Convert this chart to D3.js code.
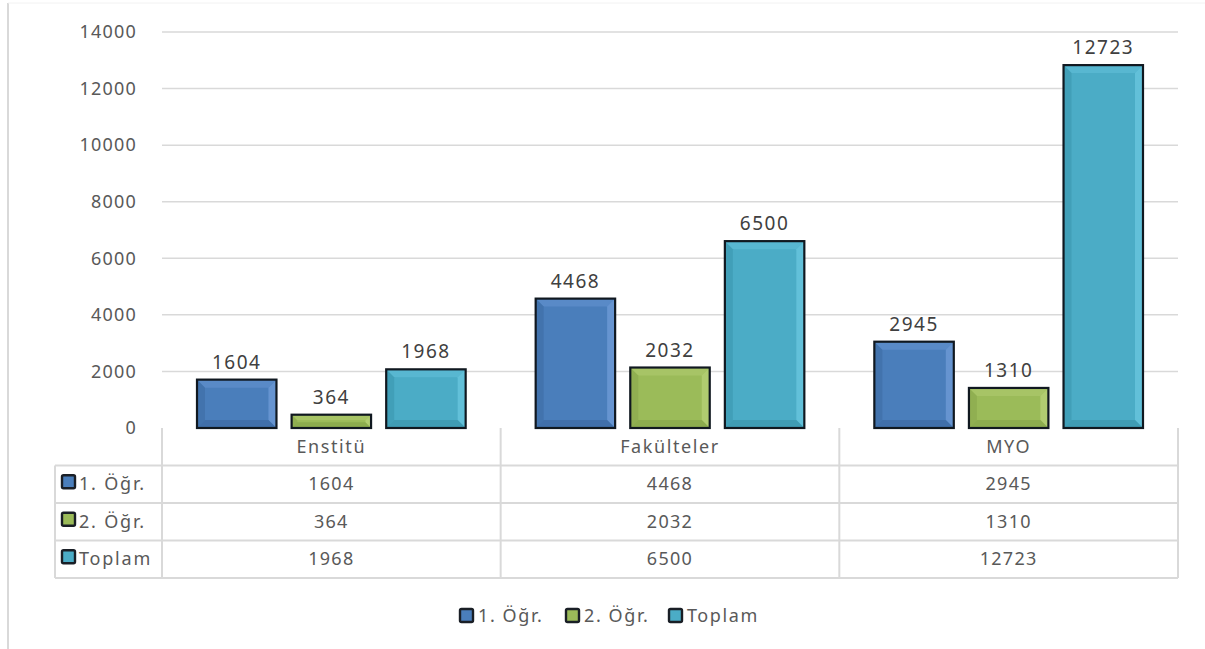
<!DOCTYPE html>
<html><head><meta charset="utf-8">
<script src="https://cdn.jsdelivr.net/npm/d3@7"></script>
<style>
html,body{margin:0;padding:0;background:#fff;}
svg{display:block;font-family:"Noto Sans","Open Sans",sans-serif;}
</style></head>
<body>
<svg id="c" width="1205" height="649"></svg>
<script>
const categories = ["Enstitü", "Fakülteler", "MYO"];
const seriesNames = ["1. Öğr.", "2. Öğr.", "Toplam"];
const ogr1 = [1604, 4468, 2945];
const ogr2 = [364, 2032, 1310];
const toplam = [1968, 6500, 12723];
const yTicks = [0, 2000, 4000, 6000, 8000, 10000, 12000, 14000];
const seriesValues = [ogr1, ogr2, toplam];
const colors = ["#4a7ebb", "#9bbb59", "#4bacc6"];
const lightC = ["#6d9ad6", "#b5d176", "#68c6dd"];
const darkC = ["#3c6aa3", "#86a54a", "#3b95ad"];

const svg = d3.select("#c");
const L = 162, R = 1178, T = 32, B = 428;
const grid = "#d9d9d9", txt = "#595959";

// chart border
svg.append("line").attr("x1",8).attr("x2",8).attr("y1",3).attr("y2",649).attr("stroke","#d9d9d9").attr("stroke-width",2);
svg.append("line").attr("x1",8).attr("x2",1205).attr("y1",3).attr("y2",3).attr("stroke","#f2f2f2").attr("stroke-width",1);

const y = d3.scaleLinear().domain([0, 14000]).range([B, T]);
const x0 = d3.scaleBand().domain(categories).range([L, R]).paddingInner(0).paddingOuter(0);
const x1 = d3.scaleBand().domain(seriesNames).range([35, x0.bandwidth() - 35]).paddingInner(0.16).paddingOuter(0);

// gridlines
svg.append("g").selectAll("line").data(yTicks.filter(d => d > 0)).join("line")
  .attr("x1", L).attr("x2", R).attr("y1", d => y(d)).attr("y2", d => y(d))
  .attr("stroke", grid).attr("stroke-width", 1.5);

// y axis labels
const yAxis = d3.axisLeft(y).tickValues(yTicks).tickSize(0).tickPadding(25).tickFormat(d3.format("d"));
const ya = svg.append("g").attr("transform", `translate(${L},0)`).call(yAxis);
ya.select(".domain").remove();
ya.selectAll("text").attr("font-size", 18).attr("fill", txt).attr("letter-spacing", 1.2)
  .attr("font-family", '"Noto Sans",sans-serif');

// bars
const groups = svg.append("g").selectAll("g").data(categories).join("g")
  .attr("transform", d => `translate(${x0(d)},0)`);
seriesNames.forEach((s, si) => {
  groups.each(function(cat, ci) {
    const g = d3.select(this);
    const v = seriesValues[si][ci];
    const bx = x1(s), bw = x1.bandwidth(), by = y(v) - 3, bh = B - by;
    const bev = Math.min(8, bh / 2 - 1, bw / 2 - 1);
    g.append("rect").attr("x", bx).attr("y", by).attr("width", bw).attr("height", bh)
      .attr("fill", colors[si]);
    const x2 = bx + bw, y2 = by + bh;
    if (bev > 1) {
      g.append("path").attr("d", `M${bx},${by}L${x2},${by}L${x2-bev},${by+bev}L${bx+bev},${by+bev}Z`).attr("fill", lightC[si]).attr("opacity", 0.45);
      g.append("path").attr("d", `M${x2},${by}L${x2},${y2}L${x2-bev},${y2-bev}L${x2-bev},${by+bev}Z`).attr("fill", lightC[si]).attr("opacity", 0.8);
      g.append("path").attr("d", `M${bx},${by}L${bx+bev},${by+bev}L${bx+bev},${y2-bev}L${bx},${y2}Z`).attr("fill", darkC[si]).attr("opacity", 0.55);
      g.append("path").attr("d", `M${bx},${y2}L${bx+bev},${y2-bev}L${x2-bev},${y2-bev}L${x2},${y2}Z`).attr("fill", darkC[si]).attr("opacity", 0.7);
    }
    g.append("rect").attr("x", bx).attr("y", by).attr("width", bw).attr("height", bh)
      .attr("fill", "none").attr("stroke", "#101820").attr("stroke-width", 2.2);
    g.append("text").attr("x", bx + bw / 2).attr("y", by - 11).attr("text-anchor", "middle")
      .attr("font-size", 19).attr("fill", "#404040").attr("letter-spacing", 1.5).text(v);
  });
});

// data table
const rowH = 37.5;
const tTop = B, left0 = 55;
const tb = svg.append("g");
const lineAttr = sel => sel.attr("stroke", grid).attr("stroke-width", 2).attr("fill", "none");
x0.domain().forEach(c => {
  lineAttr(tb.append("line").attr("x1", x0(c)).attr("x2", x0(c)).attr("y1", tTop).attr("y2", tTop + rowH * 4));
});
lineAttr(tb.append("line").attr("x1", R).attr("x2", R).attr("y1", tTop).attr("y2", tTop + rowH * 4));
lineAttr(tb.append("line").attr("x1", left0).attr("x2", left0).attr("y1", tTop + rowH).attr("y2", tTop + rowH * 4));
for (let r = 1; r <= 4; r++) {
  lineAttr(tb.append("line").attr("x1", left0).attr("x2", R).attr("y1", tTop + rowH * r).attr("y2", tTop + rowH * r));
}
categories.forEach(c => {
  tb.append("text").attr("x", x0(c) + x0.bandwidth() / 2).attr("y", tTop + rowH / 2 + 6)
    .attr("text-anchor", "middle").attr("font-size", 18).attr("fill", txt).attr("letter-spacing", 1.6).text(c);
});
function swatch(g, sx, sy, si) {
  g.append("rect").attr("x", sx).attr("y", sy).attr("width", 13).attr("height", 13).attr("rx", 1.5)
    .attr("fill", colors[si]).attr("stroke", "#1a1f26").attr("stroke-width", 2.4);
}
seriesNames.forEach((s, si) => {
  const cy = tTop + rowH * (si + 1) + rowH / 2;
  swatch(tb, 62, cy - 9, si);
  tb.append("text").attr("x", 79).attr("y", cy + 6).attr("font-size", 18).attr("fill", txt).attr("letter-spacing", 1.8).text(s);
  categories.forEach((c, ci) => {
    tb.append("text").attr("x", x0(c) + x0.bandwidth() / 2).attr("y", cy + 6)
      .attr("text-anchor", "middle").attr("font-size", 18).attr("fill", txt).attr("letter-spacing", 1.3).text(seriesValues[si][ci]);
  });
});

// legend
const lg = svg.append("g");
const legX = [460, 566, 669];
seriesNames.forEach((s, si) => {
  swatch(lg, legX[si], 609, si);
  lg.append("text").attr("x", legX[si] + 18).attr("y", 622).attr("font-size", 18).attr("fill", txt).attr("letter-spacing", 1.6).text(s);
});
</script>
</body></html>
